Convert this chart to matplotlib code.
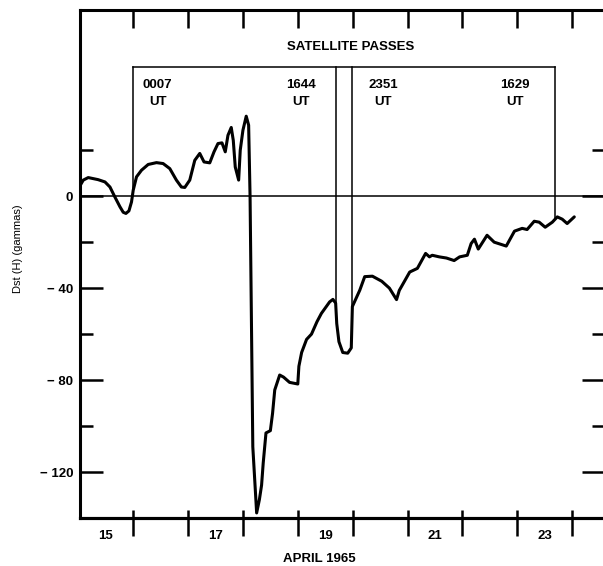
import numpy as np
import matplotlib
matplotlib.use("Agg")
import matplotlib.pyplot as plt

# Dst(H) index, April 1965 (day of month, gammas)
days = [15.036, 15.09, 15.18, 15.36, 15.485, 15.576, 15.667, 15.758, 15.818,
        15.867, 15.922, 15.969, 16.0, 16.06, 16.151, 16.273, 16.424, 16.545,
        16.667, 16.787, 16.878, 16.94, 17.031, 17.122, 17.213, 17.291, 17.395,
        17.473, 17.545, 17.618, 17.678, 17.727, 17.787, 17.824, 17.86, 17.922,
        17.951, 18.0, 18.06, 18.104, 18.13, 18.18, 18.25,
        18.30, 18.34, 18.37, 18.42, 18.50, 18.54, 18.58, 18.67, 18.74, 18.85,
        19.0, 19.02, 19.07, 19.16, 19.25, 19.35, 19.43, 19.58, 19.64, 19.69,
        19.71, 19.75, 19.82, 19.91, 19.975, 19.995, 20.13, 20.22, 20.36,
        20.53, 20.67, 20.80, 20.85, 21.04, 21.18, 21.33, 21.40, 21.45, 21.58,
        21.71, 21.85, 21.95, 22.09, 22.16, 22.22, 22.29, 22.45, 22.58, 22.80,
        22.95, 23.09, 23.18, 23.31, 23.40, 23.51, 23.64, 23.73, 23.82, 23.91,
        24.04]
dst = [4.8, 7.0, 8.1, 7.2, 6.2, 4.0, -0.4, -4.6, -7.0,
       -7.5, -6.4, -2.5, 2.6, 8.4, 11.3, 13.8, 14.6, 14.2,
       12.0, 7.0, 4.0, 3.8, 7.0, 15.6, 18.6, 14.9, 14.5,
       19.3, 22.9, 23.2, 19.3, 26.5, 29.9, 24.3, 12.7, 7.0,
       20.0, 28.7, 34.8, 30.9, 0.0, -109.0, -137.8,
       -132.0, -125.7, -116.0, -103.0, -102.0, -94.5, -84.3, -77.8, -78.7, -81.0,
       -81.7, -74.0, -68.0, -62.3, -60.0, -54.6, -51.0, -46.0, -44.9, -46.5,
       -55.4, -63.3, -68.0, -68.3, -66.0, -48.0, -40.9, -35.0, -34.8,
       -37.0, -40.0, -45.0, -41.0, -33.0, -31.4, -24.9, -26.4, -25.7, -26.4,
       -26.9, -28.0, -26.4, -25.7, -20.6, -18.7, -23.0, -17.0, -20.0, -21.7,
       -15.2, -14.0, -14.5, -10.9, -11.3, -13.5, -11.3, -9.0, -10.0, -11.9,
       -9.0]

# Satellite passes (UT, converted to fractional day of month)
pass_labels = ["0007", "1644", "2351", "1629"]
pass_days = [16 + 7 / 1440, 19 + (16 * 60 + 44) / 1440,
             19 + (23 * 60 + 51) / 1440, 23 + (16 * 60 + 29) / 1440]
pass_box_top = 56

day_labels = [15, 17, 19, 21, 23]
ytick_major = [0, -40, -80, -120]
ytick_labels = ["0", "\u2212 40", "\u2212 80", "\u2212 120"]
ytick_minor = [20, -20, -60, -100]

plt.rcParams["font.family"] = ["Liberation Sans", "DejaVu Sans"]
fig = plt.figure(figsize=(6.03, 5.66), dpi=100)
W, H = 603, 566
ax = fig.add_axes([80 / W, 1 - 518 / H, (605 - 80) / W, (518 - 10) / H])
ax.set_xlim(15.03, 24.6)
ax.set_ylim(-140, 81)

ax.plot(days, dst, color="black", lw=2.2, solid_joinstyle="round",
        solid_capstyle="round", zorder=3)
ax.axhline(0, color="black", lw=1.1, zorder=2)

# Pass markers: bracket above the trace with drops to the curve
lw_p = 1.1
ax.plot([pass_days[0], pass_days[-1]], [pass_box_top, pass_box_top],
        color="black", lw=lw_p)
for d in pass_days:
    yv = np.interp(d, days, dst)
    ax.plot([d, d], [pass_box_top, yv], color="black", lw=lw_p)

label_offsets = [0.44, -0.63, 0.56, -0.73]
for lab, d, off in zip(pass_labels, pass_days, label_offsets):
    ax.text(d + off, 48.3, lab, ha="center", va="center", fontsize=9.5,
            fontweight="bold")
    ax.text(d + off, 40.9, "UT", ha="center", va="center", fontsize=9.5,
            fontweight="bold")
ax.text(19.96, 64.8, "SATELLITE PASSES", ha="center", va="center",
        fontsize=9.5, fontweight="bold")

# Spines
for s in ["left", "bottom", "top", "right"]:
    ax.spines[s].set_linewidth(2.2)

# Y ticks
ax.set_yticks(ytick_major)
ax.set_yticklabels(ytick_labels, fontsize=9.5, fontweight="bold")
ax.set_yticks(ytick_minor, minor=True)
ax.tick_params(axis="y", which="both", direction="in", left=True, right=True,
               width=1.8, pad=5)
ax.tick_params(axis="y", which="major", length=16.5)
ax.tick_params(axis="y", which="minor", length=9.4)

# X ticks: day boundaries as ticks, day numbers at mid-day
days_int = list(range(16, 25))
ax.set_xticks(days_int)
ax.set_xticks([d + 0.5 for d in day_labels], minor=True)
ax.set_xticklabels([str(d) for d in day_labels], minor=True, fontsize=9.5,
                   fontweight="bold")
ax.tick_params(axis="x", which="major", direction="in", top=True,
               bottom=False, labelbottom=False, length=13, width=1.8)
ax.tick_params(axis="x", which="minor", top=False, bottom=False,
               labelbottom=True, pad=6.5)

sec_out = ax.secondary_xaxis("bottom")
sec_out.set_xticks(days_int)
sec_out.tick_params(direction="out", length=13, width=1.8, labelbottom=False)
sec_out.spines["bottom"].set_linewidth(2.2)
sec_in = ax.secondary_xaxis("bottom")
sec_in.set_xticks(days_int)
sec_in.tick_params(direction="in", length=6, width=1.8, labelbottom=False)
sec_in.spines["bottom"].set_linewidth(2.2)

fig.text(319 / W, 1 - 559 / H, "APRIL 1965", ha="center", va="center",
         fontsize=9.5, fontweight="bold")
fig.text(18 / W, 1 - 249 / H, "Dst (H) (gammas)", ha="center", va="center",
         rotation=90, fontsize=8)

fig.savefig("out.png", dpi=100)
